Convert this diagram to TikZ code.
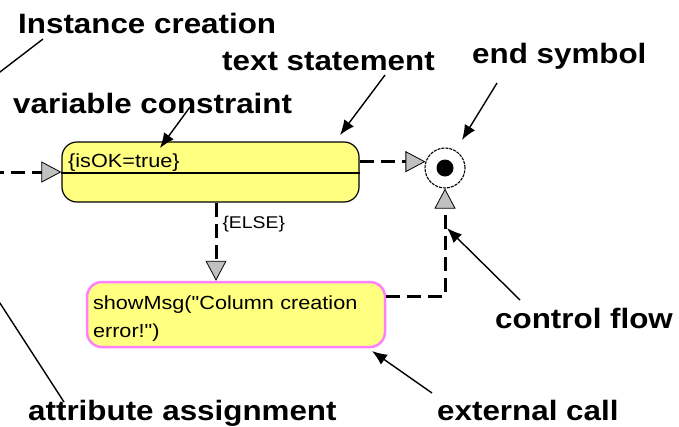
\documentclass[tikz,border=0pt]{standalone}
\usepackage{fontspec}
\setmainfont{Liberation Sans}
\newfontfamily\notefont{Liberation Sans Bold}[FakeStretch=1.12]
\newfontfamily\actfamily{Liberation Sans}[FakeStretch=1.14]
\newcommand{\actfont}{\actfamily\fontsize{19}{28}\selectfont}
\usetikzlibrary{arrows.meta}
\definecolor{actfill}{RGB}{255,255,128}
\definecolor{callpink}{RGB}{255,128,255}
\definecolor{tipgray}{RGB}{192,192,192}

\begin{document}
\begin{tikzpicture}[x=1pt,y=-1pt,every node/.style={inner sep=0pt},
  note/.style={font=\notefont\fontsize{28}{34}\selectfont,anchor=base west},
  pointer/.style={line width=1.4pt,-{Latex[length=15pt,width=12pt]}},
  flow/.style={line width=3pt,dash pattern=on 14pt off 7pt,
    -{Triangle[length=20pt,width=21pt,fill=tipgray,line width=0.8pt]}},
  action/.style={draw,line width=1.2pt,fill=actfill,rounded corners=15pt,
    minimum width=297pt,minimum height=60pt}]
  \useasboundingbox (0,0) rectangle (679,426);
  \clip (0,0) rectangle (679,426);

  \node[action] (cond) at (210.5,172) {};
  \node[anchor=base west,font=\actfont] (guard) at (68,167) {\{isOK=true\}};
  \draw[line width=1.2pt] ([yshift=-1pt]cond.west) -- ([yshift=-1pt]cond.east);

  \node[action,draw=callpink,line width=2.5pt,minimum width=298pt,minimum height=65pt,
    text width=286pt,align=left,inner xsep=6pt,font=\actfont] (msg) at (236,314.5)
    {\rule{0pt}{22pt}showMsg("Column creation\\error!")};

  \node[draw,circle,line width=1.1pt,fill=white,minimum size=40pt,
    dash pattern=on 3pt off 1pt] (endsym) at (445,168) {};
  \fill (endsym.center) circle (8.5pt);

  \coordinate (entry) at (-10,172);
  \draw[flow] (entry) -- (cond.west);
  \draw[flow] (cond.east |- endsym.162) -- (endsym.162);
  \draw[flow] ([xshift=5.5pt]cond.south) -- ([xshift=5.5pt]cond.south |- msg.north)
    node[pos=0.27,anchor=west,xshift=5pt,font=\actfamily\fontsize{17}{20}\selectfont] (else) {\{ELSE\}};
  \draw[flow] ([yshift=18.5pt]msg.east) -| (endsym.south);

  \node[note] (inst) at (18,33) {Instance creation};
  \node[note] (stmt) at (222,70) {text statement};
  \node[note] (endlbl) at (472,63) {end symbol};
  \node[note] (varlbl) at (13,113) {variable constraint};
  \node[note] (flowlbl) at (495,328) {control flow};
  \node[note] (extlbl) at (437,420) {external call};
  \node[note] (attrlbl) at (28,420) {attribute assignment};

  \coordinate (newobj) at (-30,95);
  \coordinate (setattr) at (-26,263);
  \coordinate (guardpt) at (160,148);
  \coordinate (stmtpt) at (340,135);
  \coordinate (endpt) at (462,140);
  \coordinate (flowpt) at (447,228);
  \coordinate (callpt) at (372,351);

  \draw[pointer] ([shift={(25,6)}]inst.base west) -- (newobj);
  \draw[pointer] ([shift={(36,-18)}]attrlbl.base west) -- (setattr);
  \draw[pointer] ([shift={(177,-6)}]varlbl.base west) -- (guardpt);
  \draw[pointer] ([shift={(163,5)}]stmt.base west) -- (stmtpt);
  \draw[pointer] ([shift={(25,20)}]endlbl.base west) -- (endpt);
  \draw[pointer] ([shift={(25,-28)}]flowlbl.base west) -- (flowpt);
  \draw[pointer] ([shift={(-5,-27)}]extlbl.base west) -- (callpt);
\end{tikzpicture}
\end{document}
